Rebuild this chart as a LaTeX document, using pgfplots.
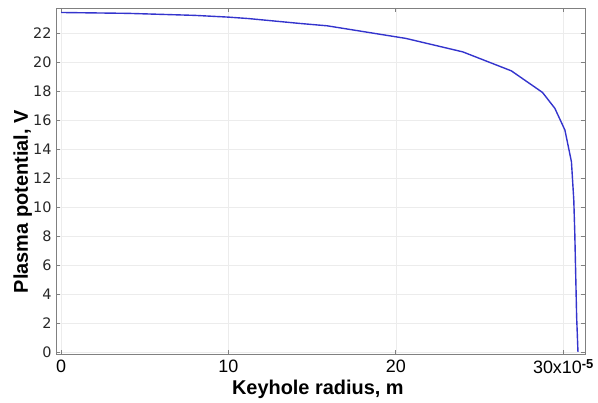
\documentclass[border=0pt]{standalone}
\usepackage{fontspec}
\setmainfont{Liberation Sans}
\newfontfamily\dejavu{DejaVu Sans}
\usepackage{pgfplots}
\pgfplotsset{compat=1.18}
\definecolor{curve}{RGB}{52,52,205}
\definecolor{axisgray}{RGB}{128,128,128}
\definecolor{gridgray}{RGB}{236,236,236}
\definecolor{ticktext}{RGB}{40,40,40}

\begin{document}
\begin{tikzpicture}
% reserve the reference's canvas round the axis box
\path (-56bp,-49bp) rectangle (542bp,354bp);
\begin{axis}[
    scale only axis,
    width=529bp, height=346bp,
    xmin=-0.3, xmax=31.3,
    ymin=-0.14, ymax=23.75,
    xtick={0,10,20,30},
    xticklabels={0,10,20,{30x10\raisebox{0.55ex}{\fontsize{13}{13}\selectfont\bfseries -5}}},
    ytick={0,2,...,22},
    /pgf/number format/assume math mode=true,
    tick align=inside,
    tick pos=both,
    major tick length=4bp,
    axis line style={axisgray, line width=0.9pt},
    every tick/.style={axisgray, line width=0.8pt},
    grid=major,
    grid style={gridgray, line width=0.5pt},
    x tick label style={font=\fontsize{18}{18}\selectfont, text=black, yshift=-2bp},
    y tick label style={font=\dejavu\fontsize{14.5}{14.5}\selectfont, text=ticktext, xshift=-1bp},
    xlabel={Keyhole radius, m},
    ylabel={Plasma potential, V},
    xlabel style={font=\bfseries\fontsize{20}{20}\selectfont, at={(axis description cs:0.495,-0.101)}, anchor=center},
    ylabel style={font=\bfseries\fontsize{20}{20}\selectfont, at={(axis description cs:-0.063,0.44)}, anchor=center, rotate=0},
]
\addplot[curve, line width=1.4pt] coordinates {
    (0,23.44) (4,23.38) (8,23.24) (10,23.12) (11.2,23.02) (14.3,22.68)
    (15.9,22.52) (20.6,21.65) (24.0,20.72) (26.9,19.41) (28.76,17.92)
    (29.5,16.82) (30.1,15.32) (30.49,13.13) (30.63,10.49) (30.69,8.19)
    (30.8,2.44) (30.88,0)
};
\end{axis}
\end{tikzpicture}
\end{document}
